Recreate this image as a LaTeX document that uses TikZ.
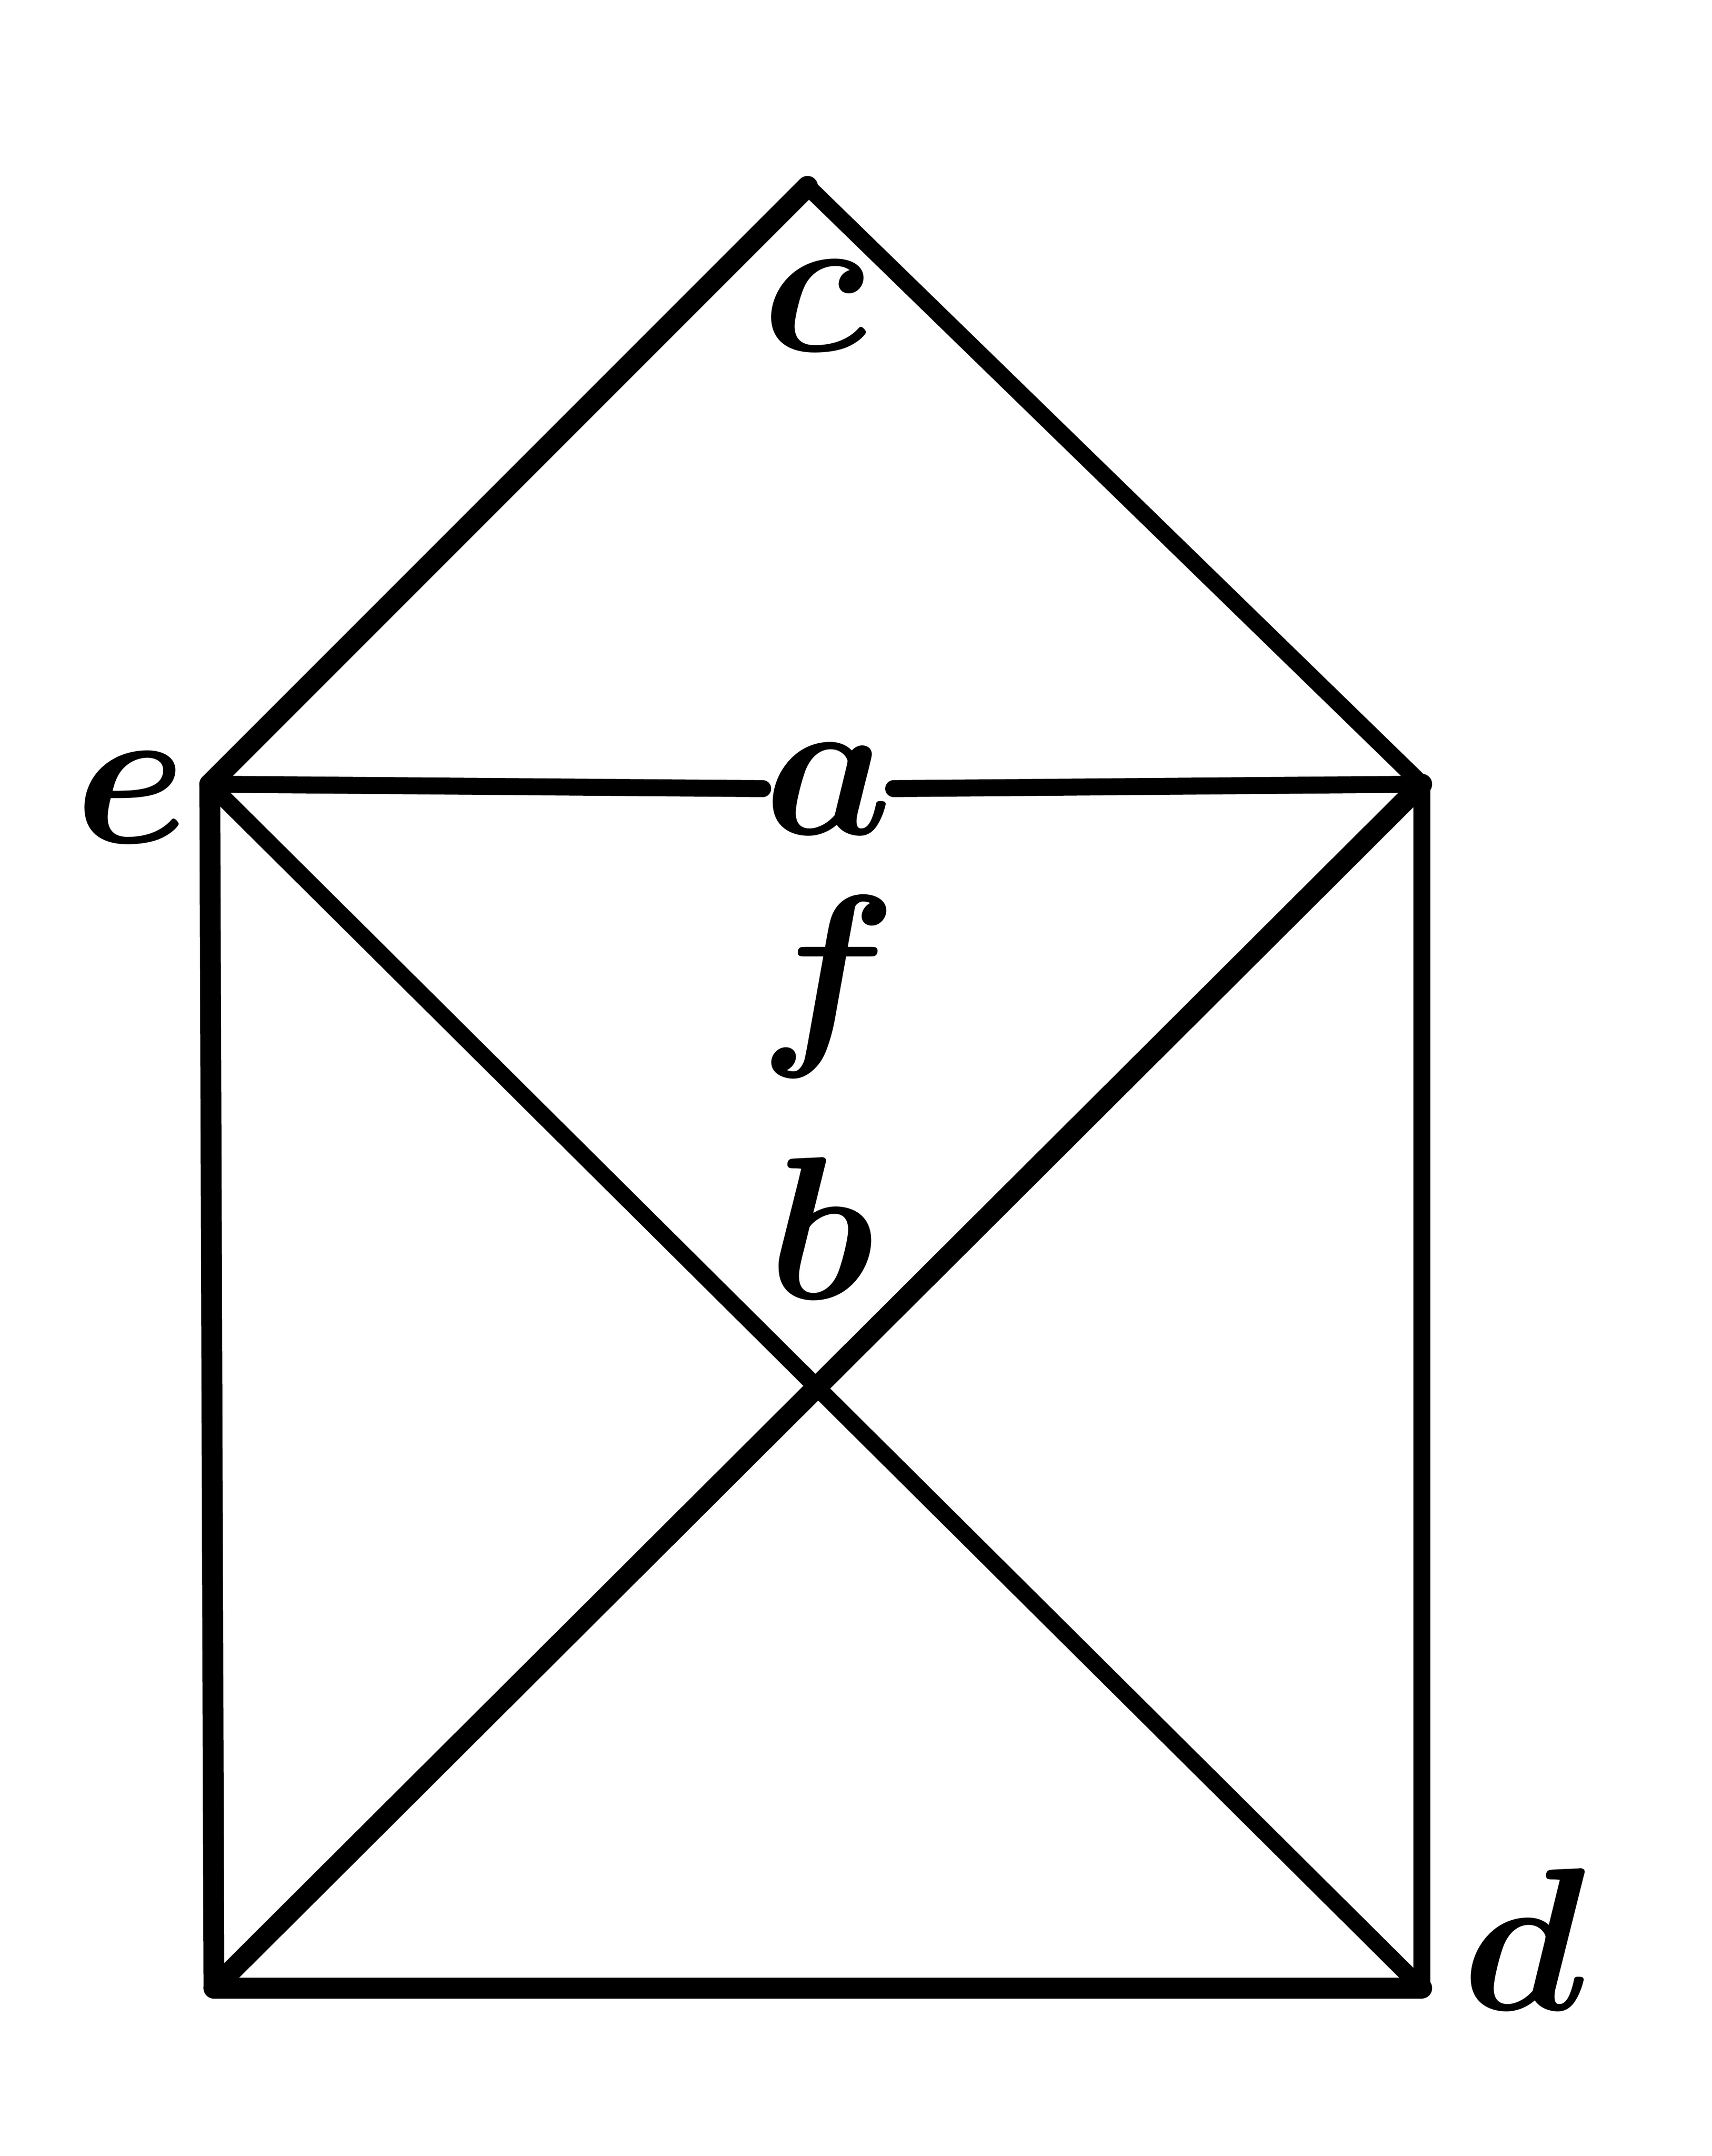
\documentclass[tikz,border=0pt]{standalone}
\usepackage{graphicx}
\begin{document}
\begin{tikzpicture}[
  edge/.style={line width=3.5pt, line cap=round, line join=round},
  heavy/.style={line width=4.3pt, line cap=round, line join=round},
  lbl/.style={inner sep=0pt, font=\Huge\boldmath}
]
\useasboundingbox (0,0) rectangle (12.4,15.616);
\coordinate (C) at (5.85,14.266);
\coordinate (E) at (1.52,9.936);
\coordinate (R) at (10.30,9.936);
\coordinate (BL) at (1.55,1.216);
\coordinate (BR) at (10.30,1.216);

\node[lbl] (a) at (6.00,9.90) {\scalebox{1.69}{$a$}};
\node[lbl] (c) at (5.90,13.40) {\scalebox{1.69}{$c$}};
\node[lbl] (e) at (0.95,9.84) {\scalebox{1.69}{$e$}};
\node[lbl] (f) at (6.00,8.47) {\scalebox{1.69}{$f$}};
\node[lbl] (b) at (5.95,6.72) {\scalebox{1.69}{$b$}};
\node[lbl] (d) at (11.04,1.57) {\scalebox{1.69}{$d$}};

\draw[heavy] (E) -- (C);
\draw[edge] (C) -- (R);
\draw[edge] (E) -- (a);
\draw[edge] (a) -- (R);
\draw[heavy] (E) -- (BL);
\draw[heavy] (BL) -- (BR);
\draw[edge] (BR) -- (R);
\draw[edge] (E) -- (BR);
\draw[heavy] (BL) -- (R);
\end{tikzpicture}
\end{document}
